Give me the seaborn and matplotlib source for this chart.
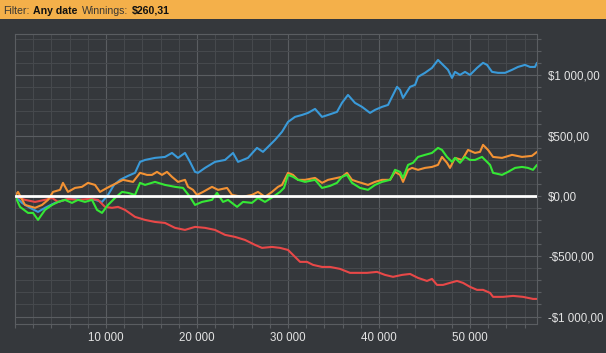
import numpy as np
import pandas as pd
import matplotlib
matplotlib.use("Agg")
import matplotlib.pyplot as plt
import matplotlib.ticker as mticker
from matplotlib.patches import Rectangle
import seaborn as sns

# running winnings ($) against trade number, one pair of lists per line
blue_x = [0, 770, 1650, 2530, 3300, 4400, 5490, 6590, 7690, 8790,
          9560, 10220, 10880, 11540, 12420, 13190, 13740, 14290, 15380, 16480,
          17250, 17910, 18680, 19230, 19780, 20110, 20880, 21980, 23080, 23960,
          24510, 25600, 26590, 27250, 27800, 28570, 29340, 30000, 30770, 31540,
          32200, 32970, 33740, 34400, 35380, 35930, 36590, 37360, 38130, 39010,
          39560, 40330, 40990, 41430, 41980, 42310, 42640, 43410, 43960, 44290,
          45050, 45820, 46480, 47030, 47580, 48020, 48350, 48900, 49450, 50000,
          50770, 51430, 51870, 52420, 53080, 53850, 54620, 55270, 56040, 56590,
          57140, 57360]
blue_y = [0, -58, -99, -133, -99, -58, -33, -17, -8, -33,
          -50, 8, 91, 133, 166, 191, 282, 298, 315, 323,
          356, 315, 356, 282, 199, 191, 232, 282, 298, 356,
          282, 315, 398, 365, 406, 464, 531, 613, 655, 671,
          688, 721, 655, 671, 696, 771, 837, 771, 738, 688,
          713, 738, 754, 821, 904, 879, 812, 904, 920, 987,
          1020, 1061, 1127, 1086, 1045, 978, 1028, 1003, 1028, 1003,
          1061, 1103, 1086, 1028, 1020, 1020, 1045, 1069, 1086, 1069,
          1069, 1103]

orange_x = [0, 330, 1100, 2200, 2970, 3630, 4180, 4950, 5270, 5820,
            6590, 7360, 8020, 8790, 9340, 10110, 10770, 11870, 12970, 13740,
            14510, 15050, 15600, 16150, 16700, 17250, 17910, 18680, 19010, 19560,
            20000, 20660, 21650, 22310, 23300, 23850, 24950, 26040, 26700, 27470,
            28240, 28900, 29340, 30000, 30550, 31100, 31870, 32970, 33740, 34400,
            35380, 35930, 36480, 37030, 37690, 38790, 39560, 40330, 41210, 41760,
            42310, 42640, 43190, 43630, 44290, 45050, 45820, 46480, 46920, 47470,
            47800, 48350, 49120, 49780, 50550, 51100, 51430, 51980, 52530, 53520,
            54620, 55710, 56810, 57360]
orange_y = [0, 33, -75, -99, -75, -33, 33, 50, 108, 33,
            66, 75, 108, 91, 33, 66, 91, 133, 116, 191,
            174, 174, 199, 174, 199, 158, 116, 133, 75, 50,
            8, 33, 75, 50, 66, 8, -8, 8, 33, -8,
            33, 75, 91, 191, 174, 133, 133, 149, 108, 133,
            149, 158, 191, 133, 116, 91, 116, 133, 133, 199,
            174, 116, 216, 232, 216, 232, 240, 257, 323, 274,
            232, 315, 298, 381, 356, 365, 423, 381, 323, 315,
            340, 323, 332, 365]

green_x = [0, 550, 1430, 1980, 2530, 3300, 4070, 4730, 5490, 6260,
           6920, 7690, 8460, 9010, 9560, 10220, 10990, 11760, 12420, 13190,
           13740, 14290, 15380, 16480, 17580, 18460, 19230, 19780, 20550, 21650,
           22200, 22860, 23410, 24400, 25050, 26040, 26700, 27470, 28350, 29120,
           29560, 30000, 30550, 31100, 31870, 32970, 33740, 34620, 35380, 35930,
           36480, 37030, 37910, 38790, 39560, 40330, 41210, 41760, 42310, 42640,
           43190, 43740, 44290, 45050, 45820, 46480, 46920, 47470, 48020, 48350,
           48900, 49450, 50000, 50550, 51320, 51650, 52200, 52530, 53520, 54180,
           54950, 55710, 56370, 56920, 57360]
green_y = [0, -91, -141, -141, -199, -116, -75, -50, -33, -58,
           -33, -50, -33, -116, -141, -75, -17, 33, 25, 8,
           108, 91, 116, 91, 75, 66, -8, -75, -50, -33,
           25, -50, -33, -91, -50, -58, -17, -50, -8, 33,
           66, 174, 158, 133, 116, 133, 66, 83, 108, 158,
           174, 108, 66, 50, 91, 116, 133, 216, 199, 149,
           257, 274, 323, 340, 356, 398, 381, 323, 282, 315,
           274, 323, 298, 298, 323, 298, 257, 191, 174, 199,
           232, 240, 232, 216, 257]

red_x = [0, 1100, 2200, 3300, 4070, 4730, 5820, 6920, 8240, 9120,
         9890, 10660, 11320, 12090, 13190, 14290, 15380, 16480, 17580, 18680,
         19780, 20880, 21980, 23080, 24180, 25270, 26370, 27140, 28240, 29120,
         30000, 30550, 31320, 32090, 32750, 33740, 34620, 35710, 36810, 37580,
         38680, 39780, 40660, 41540, 42530, 43410, 44290, 45270, 45820, 46370,
         47030, 47800, 48570, 49230, 50000, 50770, 51430, 52200, 52530, 53630,
         54730, 55820, 56920, 57360]
red_y = [0, -33, -50, -33, -17, -50, -25, -33, -25, -33,
         -91, -99, -91, -116, -174, -199, -216, -224, -265, -282,
         -257, -265, -282, -323, -340, -365, -406, -431, -423, -431,
         -448, -489, -547, -547, -572, -589, -589, -605, -638, -638,
         -638, -630, -655, -671, -655, -647, -680, -705, -688, -738,
         -738, -721, -705, -721, -754, -779, -779, -804, -837, -837,
         -829, -837, -854, -854]

x_ticks = [10000, 20000, 30000, 40000, 50000]
y_ticks = [-1000, -500, 0, 500, 1000]
header_parts = [("Filter:", "normal"), ("Any date", "bold"),
                ("Winnings:", "normal"), ("$260,31", "bold")]

BG = '#35383c'
GRID_MAJOR = '#5a5d61'
GRID_MINOR = '#46494d'
LABEL = '#e4e4e4'
palette = {'blue': '#3a9ad9', 'red': '#e84848',
           'orange': '#f39234', 'green': '#35e835'}

series = [('blue', blue_x, blue_y), ('red', red_x, red_y),
          ('orange', orange_x, orange_y), ('green', green_x, green_y)]
df = pd.concat([pd.DataFrame({'trade': x, 'winnings': y, 'line': name})
                for name, x, y in series], ignore_index=True)

sns.set_style('dark', rc={'axes.facecolor': BG, 'figure.facecolor': BG})
plt.rcParams['font.family'] = ['Liberation Sans', 'DejaVu Sans']

fig = plt.figure(figsize=(6.06, 3.53), dpi=100)
ax = fig.add_axes([15 / 606, 1 - 324 / 353, 522 / 606, 290 / 353])

sns.lineplot(data=df, x='trade', y='winnings', hue='line',
             hue_order=['blue', 'red', 'orange', 'green'], palette=palette,
             estimator=None, sort=False, linewidth=1.5, legend=False, ax=ax)
ax.axhline(0, color='white', linewidth=2, zorder=5)

ax.set_xlim(0, 57360)
ax.set_ylim(-1062, 1342)
ax.set_xticks(x_ticks)
ax.set_yticks(y_ticks)
ax.xaxis.set_minor_locator(mticker.MultipleLocator(2000))
ax.yaxis.set_minor_locator(mticker.MultipleLocator(100))
ax.xaxis.set_major_formatter(mticker.FuncFormatter(
    lambda v, p: f"{int(v):,}".replace(',', ' ')))


def money(v, p):
    s = f"{abs(v):,.2f}".replace(',', ' ').replace('.', ',')
    return ('-$' if v < 0 else '$') + s


ax.yaxis.set_major_formatter(mticker.FuncFormatter(money))
ax.yaxis.tick_right()
ax.set_xlabel('')
ax.set_ylabel('')

# grid: light every 10 000 / $500, darker in between
ax.grid(True, which='minor', color=GRID_MINOR, linewidth=0.8)
ax.grid(True, which='major', color=GRID_MAJOR, linewidth=0.8)
ax.set_axisbelow(True)
for s in ax.spines.values():
    s.set_visible(True)
    s.set_color(GRID_MAJOR)
    s.set_linewidth(0.8)

ax.tick_params(which='both', direction='out', length=3, width=0.8,
               color=GRID_MAJOR, labelcolor=LABEL, labelsize=8.3,
               bottom=True, right=True, left=False, top=False)
ax.tick_params(axis='y', which='both', pad=5)
ax.tick_params(axis='x', which='both', pad=3)

# orange filter bar across the top
fig.patches.append(Rectangle((0, 1 - 18.5 / 353), 1, 18.5 / 353,
                             transform=fig.transFigure, facecolor='#f4b04a',
                             edgecolor='none', zorder=0))
header_x = [3, 33, 82, 132]
for (txt, weight), px in zip(header_parts, header_x):
    fig.text(px / 606, 1 - 13.5 / 353, txt, fontsize=7.6, fontweight=weight,
             color='#111111' if weight == 'bold' else '#3a3833',
             va='baseline', ha='left')

plt.savefig('out.png', dpi=100, facecolor=BG)
plt.close()
